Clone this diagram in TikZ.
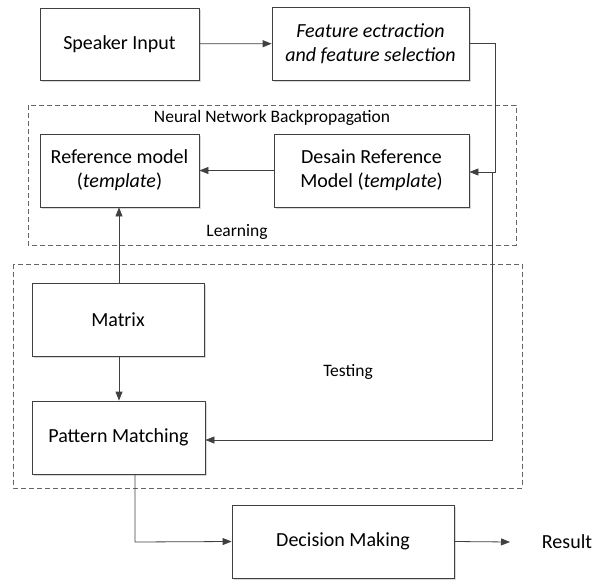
\documentclass[tikz,border=0pt]{standalone}
\usepackage{fontspec}
\setmainfont{Carlito}
\usetikzlibrary{arrows.meta,shadows}
\definecolor{ln}{HTML}{404040}
\tikzset{
  box/.style={draw=ln, line width=0.8pt, fill=white, align=center, font=\fontsize{20}{24}\selectfont,
    drop shadow={shadow xshift=2pt, shadow yshift=-2pt, fill=black!25, opacity=0.6}},
  grp/.style={draw=ln!80, dashed, dash pattern=on 5pt off 3pt, line width=0.7pt},
  con/.style={draw=ln, line width=0.8pt, -{Triangle[length=9pt,width=7pt]}},
  lbl/.style={font=\fontsize{17.5}{20}\selectfont},
}
\begin{document}
\begin{tikzpicture}[x=1pt,y=-1pt]
\useasboundingbox (0,0) rectangle (601,580);
% group boxes
\draw[grp] (28,105) rectangle (516,245);
\draw[grp] (13,264) rectangle (522,488);
\node[lbl] (nnb) at (272,118) {Neural Network Backpropagation};
\node[lbl] (learn) at (237,232) {Learning};
\node[lbl] (test) at (348,372) {Testing};
% boxes
\node[box, minimum width=159pt, minimum height=72pt] (spk) at (119.5,44) {Speaker Input};
\node[box, minimum width=197pt, minimum height=73pt] (feat) at (370.5,43.5) {\textit{Feature ectraction}\\\textit{and feature selection}};
\node[box, minimum width=159pt, minimum height=73pt] (ref) at (119.5,170.5) {Reference model\\(\textit{template})};
\node[box, minimum width=195pt, minimum height=73pt] (des) at (371.5,170.5) {Desain Reference\\Model (\textit{template})};
\node[box, minimum width=172pt, minimum height=73pt] (mat) at (118,319.5) {Matrix};
\node[box, minimum width=173pt, minimum height=73pt] (pat) at (118.5,437.5) {Pattern Matching};
\node[box, minimum width=222pt, minimum height=73pt] (dec) at (343,541.5) {Decision Making};
\node[font=\fontsize{20}{24}\selectfont] (res) at (567,542) {Result};
% connectors
\coordinate (j1) at (495,43.5);
\coordinate (j2) at (495,172);
\coordinate (j3) at (492,172);
\coordinate (j4) at (492,440);
\coordinate (j5) at (135,542);
\draw[con] (spk) -- (feat);
\draw[con] (feat.east) -- (j1) -- (j2) -- (des.east |- j2);
\draw[con] (j3) -- (j4) -- (pat.east |- j4);
\draw[con] (des) -- (ref);
\draw[con] (mat.north -| 119,0) -- (ref.south -| 119,0);
\draw[con] (mat.south -| 119,0) -- (pat.north -| 119,0);
\draw[con] (pat.south -| j5) -- (j5) -- (dec.west);
\draw[con] (dec.east) -- (510,542) coordinate (rs);
\end{tikzpicture}
\end{document}
